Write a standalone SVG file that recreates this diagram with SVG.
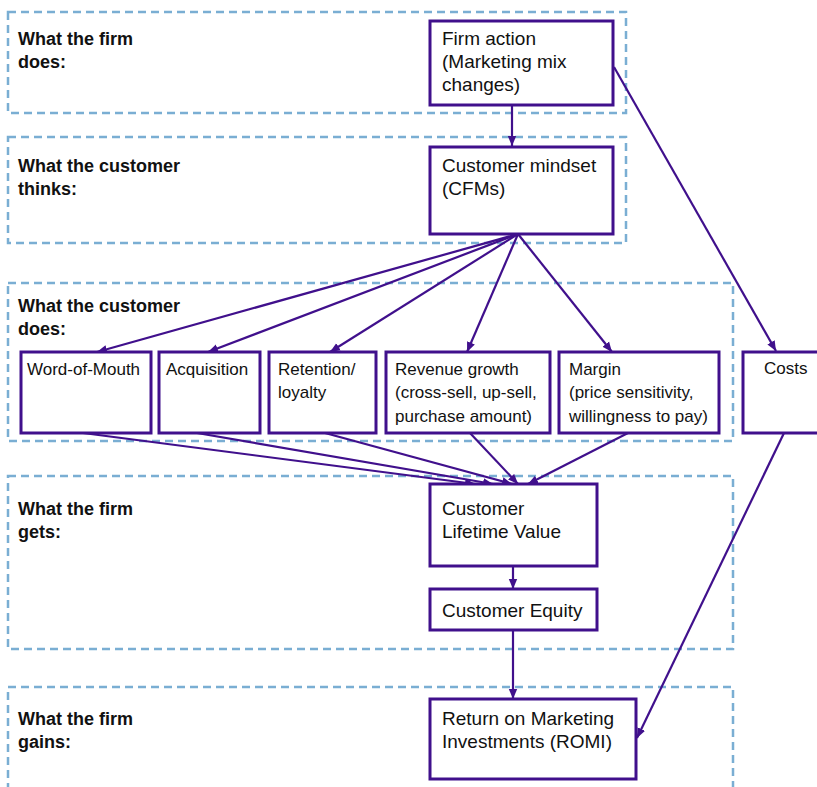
<svg xmlns="http://www.w3.org/2000/svg" width="817" height="787" viewBox="0 0 817 787">
  <style>
    .band { fill: none; stroke: #7aaed3; stroke-width: 2.5; stroke-dasharray: 8 5; }
    .band-label { font-family: "Liberation Sans", Arial, sans-serif; font-weight: bold; font-size: 18px; fill: #111; }
    .box { fill: #fff; stroke: #40108c; stroke-width: 3; }
    .txt { font-family: "Liberation Sans", Arial, sans-serif; font-size: 19px; fill: #111; }
    .txt-s { font-family: "Liberation Sans", Arial, sans-serif; font-size: 17px; fill: #111; }
    .edge { fill: none; stroke: #40108c; stroke-width: 2.2; marker-end: url(#arrow); }
  </style>
  <defs>
    <marker id="arrow" markerUnits="userSpaceOnUse" markerWidth="10" markerHeight="10" refX="10" refY="5" orient="auto">
      <path d="M0,0.8 L10,5 L0,9.2 z" fill="#40108c"/>
    </marker>
  </defs>

  <rect width="817" height="787" fill="#fff"/>

  <!-- Stage bands -->
  <g id="bands">
    <rect class="band" x="8" y="12" width="618" height="101"/>
    <rect class="band" x="8" y="137" width="618" height="106"/>
    <rect class="band" x="8" y="283" width="725" height="158"/>
    <rect class="band" x="8" y="476" width="725" height="173"/>
    <rect class="band" x="8" y="687" width="725" height="120"/>
    <text class="band-label" x="18" y="45">What the firm</text>
    <text class="band-label" x="18" y="68">does:</text>
    <text class="band-label" x="18" y="172">What the customer</text>
    <text class="band-label" x="18" y="195">thinks:</text>
    <text class="band-label" x="18" y="312">What the customer</text>
    <text class="band-label" x="18" y="335">does:</text>
    <text class="band-label" x="18" y="515">What the firm</text>
    <text class="band-label" x="18" y="538">gets:</text>
    <text class="band-label" x="18" y="725">What the firm</text>
    <text class="band-label" x="18" y="748">gains:</text>
  </g>

  <!-- Connectors -->
  <g id="connectors">
    <line class="edge" x1="512" y1="105" x2="512" y2="146"/>
    <line class="edge" x1="614" y1="67" x2="776" y2="351"/>
    <line class="edge" x1="518" y1="234" x2="97" y2="352"/>
    <line class="edge" x1="518" y1="234" x2="208" y2="352"/>
    <line class="edge" x1="518" y1="234" x2="330" y2="352"/>
    <line class="edge" x1="518" y1="234" x2="467" y2="352"/>
    <line class="edge" x1="518" y1="234" x2="612" y2="352"/>
    <line class="edge" x1="83" y1="433" x2="475" y2="484"/>
    <line class="edge" x1="197" y1="433" x2="493" y2="484"/>
    <line class="edge" x1="325" y1="433" x2="512" y2="484"/>
    <line class="edge" x1="470" y1="433" x2="518" y2="484"/>
    <line class="edge" x1="628" y1="433" x2="528" y2="484"/>
    <line class="edge" x1="513" y1="566" x2="513" y2="589"/>
    <line class="edge" x1="513" y1="630" x2="513" y2="699"/>
    <line class="edge" x1="784" y1="433" x2="637" y2="738"/>
  </g>

  <!-- Nodes -->
  <g id="firm-action">
    <rect class="box" x="430" y="21" width="183" height="84"/>
    <text class="txt" x="442" y="45">Firm action</text>
    <text class="txt" x="442" y="68">(Marketing mix</text>
    <text class="txt" x="442" y="91">changes)</text>
  </g>
  <g id="customer-mindset">
    <rect class="box" x="430" y="147" width="183" height="87"/>
    <text class="txt" x="442" y="172">Customer mindset</text>
    <text class="txt" x="442" y="195">(CFMs)</text>
  </g>
  <g id="word-of-mouth">
    <rect class="box" x="21" y="352" width="130" height="81"/>
    <text class="txt-s" x="27" y="375">Word-of-Mouth</text>
  </g>
  <g id="acquisition">
    <rect class="box" x="159" y="352" width="101" height="81"/>
    <text class="txt-s" x="166" y="375">Acquisition</text>
  </g>
  <g id="retention">
    <rect class="box" x="269" y="352" width="107" height="81"/>
    <text class="txt-s" x="278" y="375">Retention/</text>
    <text class="txt-s" x="278" y="398">loyalty</text>
  </g>
  <g id="revenue-growth">
    <rect class="box" x="386" y="352" width="164" height="81"/>
    <text class="txt-s" x="395" y="375">Revenue growth</text>
    <text class="txt-s" x="395" y="398">(cross-sell, up-sell,</text>
    <text class="txt-s" x="395" y="422">purchase amount)</text>
  </g>
  <g id="margin">
    <rect class="box" x="559" y="352" width="160" height="81"/>
    <text class="txt-s" x="569" y="375">Margin</text>
    <text class="txt-s" x="569" y="398">(price sensitivity,</text>
    <text class="txt-s" x="569" y="422">willingness to pay)</text>
  </g>
  <g id="costs">
    <rect class="box" x="743" y="352" width="90" height="81"/>
    <text class="txt-s" x="764" y="374">Costs</text>
  </g>
  <g id="customer-lifetime-value">
    <rect class="box" x="430" y="484" width="167" height="82"/>
    <text class="txt" x="442" y="515">Customer</text>
    <text class="txt" x="442" y="538">Lifetime Value</text>
  </g>
  <g id="customer-equity">
    <rect class="box" x="430" y="589" width="167" height="41"/>
    <text class="txt" x="442" y="617">Customer Equity</text>
  </g>
  <g id="romi">
    <rect class="box" x="430" y="699" width="206" height="80"/>
    <text class="txt" x="442" y="725">Return on Marketing</text>
    <text class="txt" x="442" y="748">Investments (ROMI)</text>
  </g>
</svg>
